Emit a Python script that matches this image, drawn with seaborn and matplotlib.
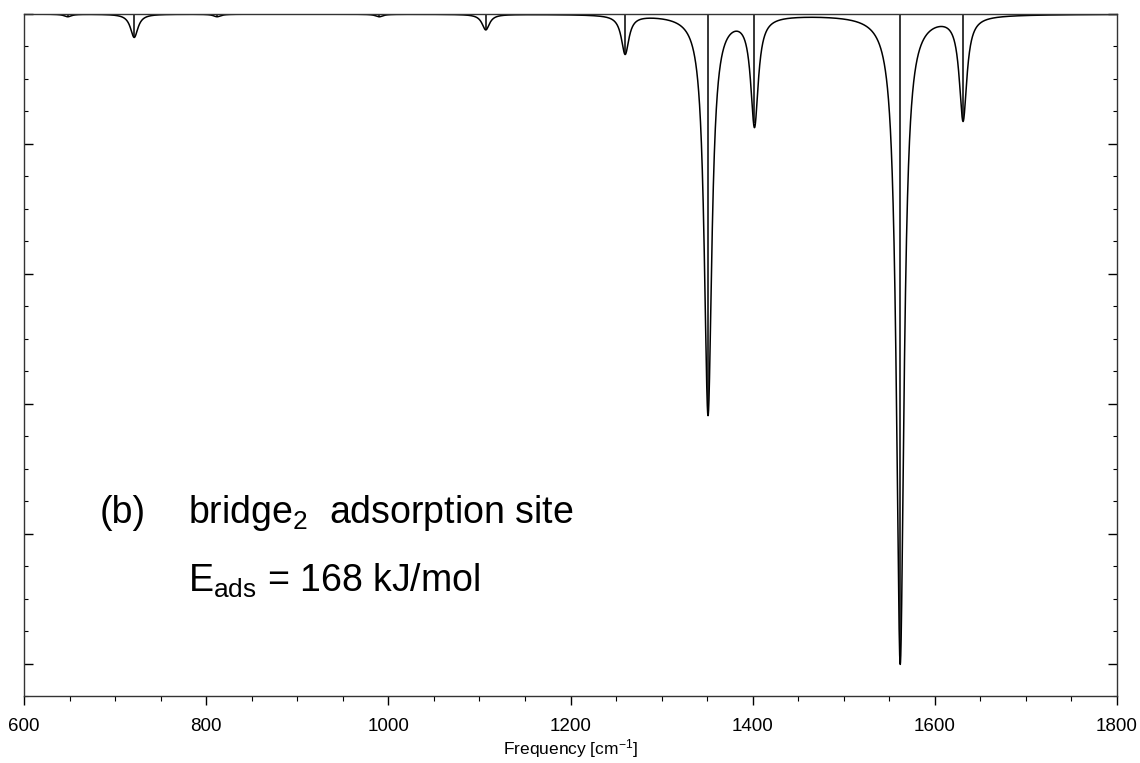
import matplotlib
matplotlib.use("Agg")
import matplotlib.pyplot as plt
import seaborn as sns
import numpy as np
from matplotlib.ticker import MultipleLocator, NullFormatter

# Peak positions (cm^-1) and depths
peak_freqs = [648, 721, 812, 990, 1107, 1260, 1351, 1402, 1562, 1631]
peak_depths = [0.02, 0.18, 0.02, 0.02, 0.12, 0.30, 3.08, 0.84, 5.00, 0.80]
# Lorentzian half width used for the broadened curve
half_width = 5.0

x_ticks = [600, 800, 1000, 1200, 1400, 1600, 1800]

sns.set_style("ticks")
plt.rcParams['font.family'] = ['Liberation Sans', 'DejaVu Sans']
plt.rcParams['mathtext.default'] = 'regular'
plt.rcParams['text.color'] = 'black'
plt.rcParams['axes.labelcolor'] = 'black'
plt.rcParams['xtick.color'] = 'black'
plt.rcParams['ytick.color'] = 'black'

# Broadened spectrum built from the stick data
freq = np.arange(600, 1800.01, 0.1)
signal = np.zeros_like(freq)
for f0, h in zip(peak_freqs, peak_depths):
    signal += h * half_width**2 / ((freq - f0)**2 + half_width**2)

fig = plt.figure(figsize=(11.4, 7.63), dpi=100)
ax = fig.add_axes([24 / 1140, 1 - 696 / 763, 1093 / 1140, 682 / 763])

sns.lineplot(x=freq, y=-signal, color='black', linewidth=1.1, ax=ax)
ax.vlines(peak_freqs, 0, -np.array(peak_depths), color='black', linewidth=1.1)

ax.set_xlim(600, 1800)
ax.set_ylim(-5.25, 0)
ax.set_xticks(x_ticks)
ax.xaxis.set_minor_locator(MultipleLocator(50))
ax.yaxis.set_major_locator(MultipleLocator(1))
ax.yaxis.set_minor_locator(MultipleLocator(0.25))
ax.yaxis.set_major_formatter(NullFormatter())

ax.tick_params(axis='x', which='major', direction='out', length=6.5, width=1.0,
               labelsize=13.5, pad=9.5, top=False)
ax.tick_params(axis='x', which='minor', direction='out', length=3.5, width=0.8, top=False)
ax.tick_params(axis='y', which='major', direction='in', length=6.5, width=1.0,
               left=True, right=True)
ax.tick_params(axis='y', which='minor', direction='in', length=3.0, width=0.8,
               left=True, right=True)

for spine in ax.spines.values():
    spine.set_visible(True)
    spine.set_linewidth(1.0)
    spine.set_color('#333333')

ax.set_xlabel('Frequency [cm$^{-1}$]', fontsize=12.5, labelpad=1)
ax.set_ylabel('')

ax.text(0.0695, 0.254, '(b)', transform=ax.transAxes, fontsize=27, va='baseline')
ax.text(0.150, 0.254, 'bridge$_2$  adsorption site', transform=ax.transAxes,
        fontsize=27, va='baseline')
ax.text(0.150, 0.1525, 'E$_{ads}$ = 168 kJ/mol', transform=ax.transAxes,
        fontsize=27, va='baseline')

fig.savefig('out.png', dpi=100)
plt.close(fig)
